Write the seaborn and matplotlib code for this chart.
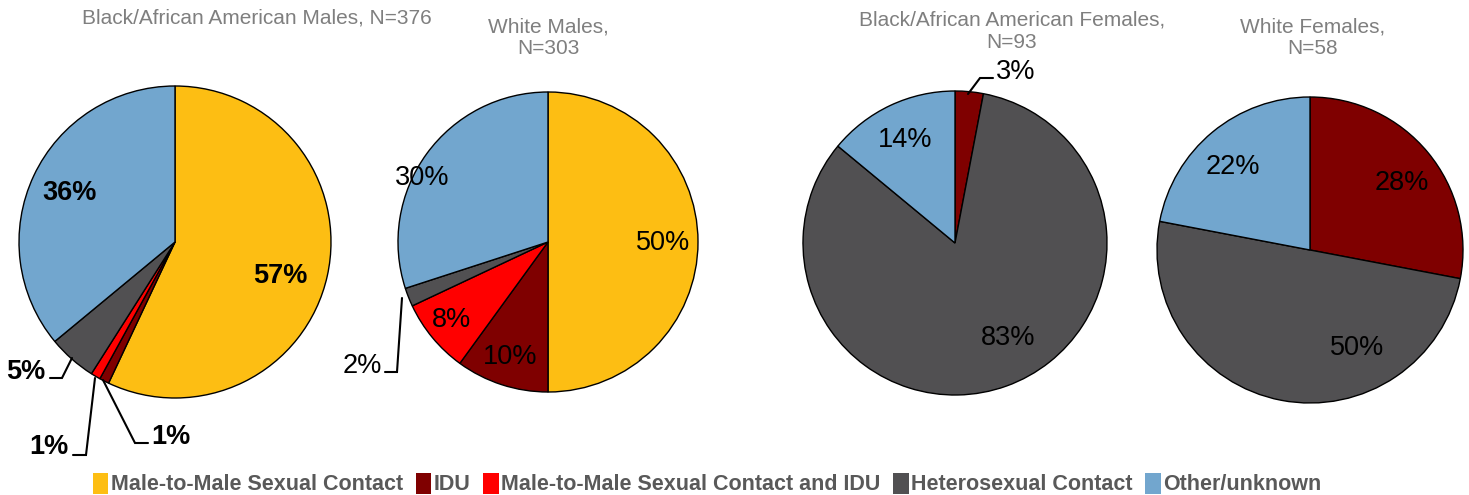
import matplotlib
matplotlib.use("Agg")
import matplotlib.pyplot as plt
from matplotlib.patches import Patch
import seaborn as sns

categories = ["Male-to-Male Sexual Contact", "IDU", "Male-to-Male Sexual Contact and IDU",
              "Heterosexual Contact", "Other/unknown"]
titles = ["Black/African American Males, N=376", "White Males,\nN=303",
          "Black/African American Females,\nN=93", "White Females,\nN=58"]
bam_values = [57, 1, 1, 5, 36]
wm_values = [50, 10, 8, 2, 30]
baf_values = [0, 3, 0, 83, 14]
wf_values = [0, 28, 0, 50, 22]
all_values = [bam_values, wm_values, baf_values, wf_values]

sns.set_theme(style="white")
plt.rcParams['font.family'] = ['Liberation Sans', 'DejaVu Sans']

colors = ["#FDBE13", "#7F0000", "#FF0000", "#515052", "#72A6CE"]

W, H = 1469, 495
fig = plt.figure(figsize=(W / 100, H / 100), dpi=100)
ax = fig.add_axes([0, 0, 1, 1])

def Y(y):
    return H - y

# layout (pixel coordinates, y from top)
centers = [(175, 242), (548, 242), (955, 243), (1310, 250)]
radii = [156, 150, 152, 153]
title_pos = [(257, 18), (548, 38), (1012, 31), (1313, 38)]
label_pos = [
    [(280, 276), (49, 447), (171, 437), (26, 372), (70, 193)],
    [(663, 243), (510, 357), (452, 320), (362, 366), (422, 178)],
    [None, (1016, 72), None, (1008, 338), (905, 140)],
    [None, (1402, 183), None, (1357, 348), (1233, 167)],
]
bold = [True, False, False, False]

for i, vals in enumerate(all_values):
    v = [x for x in vals if x > 0]
    c = [colors[k] for k, x in enumerate(vals) if x > 0]
    cx, cy = centers[i]
    ax.pie(v, colors=c, startangle=90, counterclock=False, center=(cx, Y(cy)),
           radius=radii[i], frame=True,
           wedgeprops=dict(edgecolor="black", linewidth=1.0))
    tx, ty = title_pos[i]
    ax.text(tx, Y(ty), titles[i], ha="center", va="center", fontsize=15,
            color="#7f7f7f", linespacing=1.2)
    for k, x in enumerate(vals):
        if x > 0 and label_pos[i][k] is not None:
            lx, ly = label_pos[i][k]
            ax.text(lx, Y(ly), f"{x}%", ha="center", va="center", fontsize=19.5,
                    fontweight="bold" if bold[i] else "normal", color="black")

# leader lines
leaders = [
    [(72, 358), (62, 378), (50, 378)],
    [(95, 378), (86, 455), (73, 455)],
    [(103, 380), (135, 443), (148, 443)],
    [(402, 298), (397, 372), (385, 372)],
    [(968, 94), (980, 78), (993, 78)],
]
for pts in leaders:
    ax.plot([p[0] for p in pts], [Y(p[1]) for p in pts], color="black", lw=1.5,
            solid_joinstyle="miter")

ax.set_xlim(0, W)
ax.set_ylim(0, H)
ax.set_aspect("equal")
ax.axis("off")

handles = [Patch(facecolor=col, edgecolor="none") for col in colors]
leg = fig.legend(handles, categories, loc="center", bbox_to_anchor=(707 / W, 1 - 484 / H),
                 ncol=5, frameon=False, handlelength=0.72, handleheight=1.15,
                 handletextpad=0.1, columnspacing=0.6, borderpad=0,
                 prop=dict(weight="bold", size=15.5))
for t in leg.get_texts():
    t.set_color("#595959")

fig.savefig("out.png", dpi=100)
